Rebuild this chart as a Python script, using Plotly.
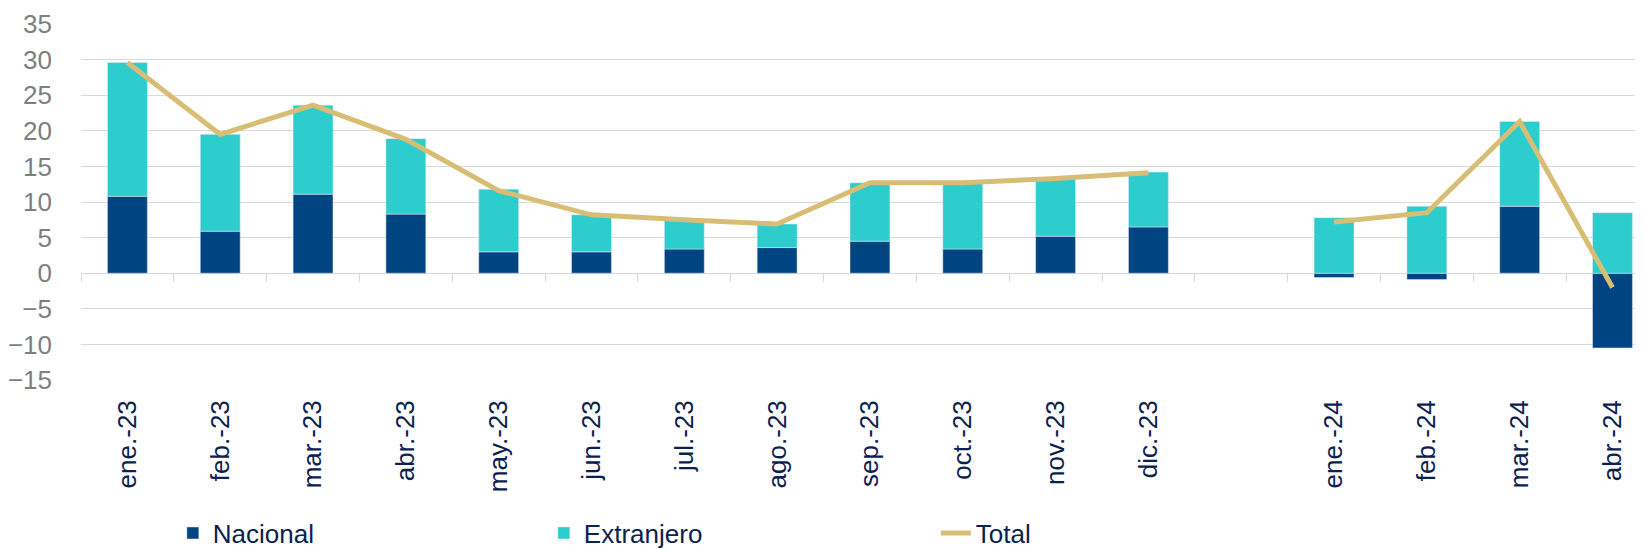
import plotly.graph_objects as go

categories = ["ene.-23", "feb.-23", "mar.-23", "abr.-23", "may.-23", "jun.-23",
              "jul.-23", "ago.-23", "sep.-23", "oct.-23", "nov.-23", "dic.-23",
              "", "ene.-24", "feb.-24", "mar.-24", "abr.-24"]
nacional = [10.8, 5.9, 11.1, 8.3, 3.0, 3.0, 3.4, 3.6, 4.5, 3.4, 5.2, 6.5,
            None, -0.6, -0.9, 9.4, -10.5]
extranjero = [18.8, 13.6, 12.5, 10.6, 8.8, 5.2, 4.1, 3.3, 8.2, 9.3, 8.0, 7.7,
              None, 7.8, 9.4, 11.9, 8.5]
total = [29.6, 19.5, 23.6, 18.8, 11.6, 8.2, 7.5, 6.9, 12.7, 12.7, 13.3, 14.1,
         None, 7.2, 8.5, 21.3, -2.0]
y_ticks = [-15, -10, -5, 0, 5, 10, 15, 20, 25, 30, 35]

positions = list(range(len(categories)))
label_pos = [p for p, c in zip(positions, categories) if c]
label_txt = [c for c in categories if c]
boundaries = [p - 0.5 for p in positions]

C_NAC = "#004481"
C_EXT = "#2DCCCD"
C_TOT = "#D8BE75"
FONT = "Liberation Sans, Arial, sans-serif"
TXT = "#0b2150"

fig = go.Figure()
fig.add_trace(go.Bar(x=positions, y=nacional, name="Nacional", marker_color=C_NAC,
                     width=0.43, legendwidth=326))
fig.add_trace(go.Bar(x=positions, y=extranjero, name="Extranjero", marker_color=C_EXT,
                     width=0.43, legendwidth=347))
fig.add_trace(go.Scatter(x=positions, y=total, name="Total", mode="lines",
                         line=dict(color=C_TOT, width=5), connectgaps=False,
                         legendwidth=100))
# carrier for the category-boundary tick marks on the zero line
fig.add_trace(go.Scatter(x=[None], y=[None], xaxis="x2", yaxis="y", mode="markers",
                         showlegend=False, hoverinfo="skip"))

x_range = [-0.5, -0.5 + (1643 - 73.3) / 92.8]

fig.update_layout(
    width=1643, height=549,
    margin=dict(l=73, r=0, t=16, b=166),
    barmode="relative",
    plot_bgcolor="white", paper_bgcolor="white",
    font=dict(family=FONT, size=26, color=TXT),
    showlegend=True,
    legend=dict(orientation="h", x=0.0585, y=-0.43, xanchor="left", yanchor="middle",
                font=dict(family=FONT, size=26, color=TXT), traceorder="normal",
                bgcolor="rgba(0,0,0,0)"),
    xaxis=dict(range=x_range, tickmode="array", tickvals=label_pos, ticktext=label_txt,
               tickangle=-90, showgrid=False, zeroline=False, showline=False, ticks="",
               tickfont=dict(family=FONT, size=26, color=TXT), ticklabelstandoff=14),
    xaxis2=dict(range=x_range, overlaying="x", anchor="free", position=0.3, side="bottom",
                tickmode="array", tickvals=boundaries, ticks="outside", ticklen=8,
                tickcolor="#d9d9d9", tickwidth=1, showticklabels=False, showgrid=False,
                zeroline=False, showline=False),
    yaxis=dict(range=[-15, 35], tickmode="array", tickvals=y_ticks,
               showgrid=True, gridcolor="#d9d9d9", gridwidth=1,
               zeroline=True, zerolinecolor="#d9d9d9", zerolinewidth=1,
               showline=False, ticks="",
               tickfont=dict(family=FONT, size=26, color="#7f7f7f"), ticklabelstandoff=28),
)

fig.write_html("out.html")
